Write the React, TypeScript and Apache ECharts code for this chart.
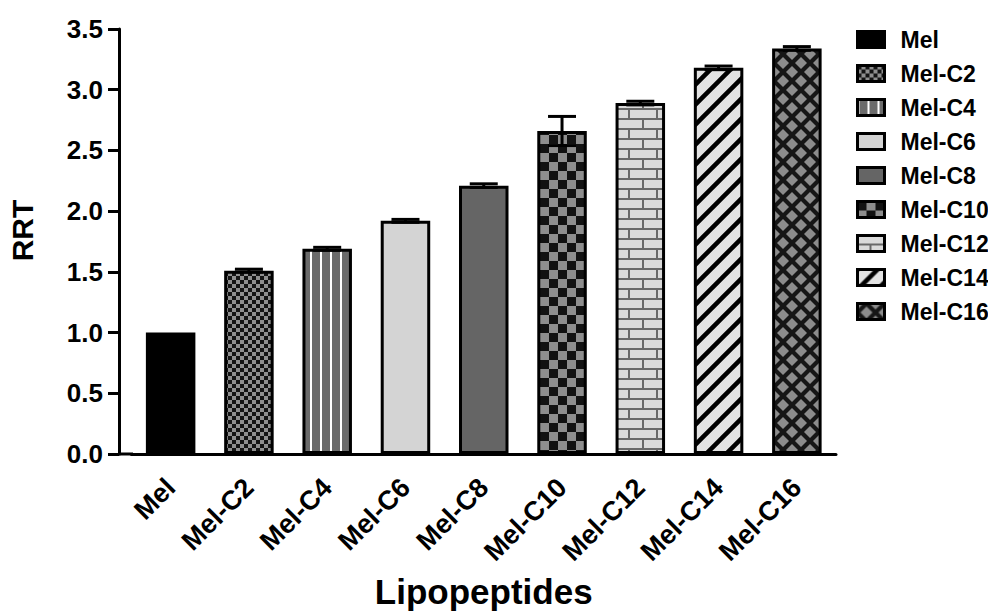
import React, { useEffect, useRef } from "react";
import * as echarts from "echarts";

const categories = ["Mel", "Mel-C2", "Mel-C4", "Mel-C6", "Mel-C8", "Mel-C10", "Mel-C12", "Mel-C14", "Mel-C16"];
const rrtValues = [1.0, 1.51, 1.69, 1.92, 2.21, 2.66, 2.89, 3.18, 3.34];
const rrtErrors = [0.0, 0.012, 0.012, 0.012, 0.015, 0.12, 0.015, 0.015, 0.015];
const yTicks = { min: 0, max: 3.5, interval: 0.5 };

const FONT = "'Liberation Sans', Arial, Helvetica, sans-serif";

function tile(w: number, h: number, draw: (ctx: CanvasRenderingContext2D) => void) {
  const c = document.createElement("canvas");
  c.width = w;
  c.height = h;
  const ctx = c.getContext("2d")!;
  draw(ctx);
  return { image: c, repeat: "repeat" } as any;
}

function checker(cell: number, a: string, b: string) {
  return tile(cell * 2, cell * 2, (ctx) => {
    ctx.fillStyle = a;
    ctx.fillRect(0, 0, cell * 2, cell * 2);
    ctx.fillStyle = b;
    ctx.fillRect(cell, 0, cell, cell);
    ctx.fillRect(0, cell, cell, cell);
  });
}

function makeFills() {
  const stripes = tile(10, 10, (ctx) => {
    ctx.fillStyle = "#6b6b6b";
    ctx.fillRect(0, 0, 10, 10);
    ctx.fillStyle = "#ffffff";
    ctx.fillRect(0, 0, 2, 10);
  });
  const bricks = tile(28, 20, (ctx) => {
    ctx.fillStyle = "#686868";
    ctx.fillRect(0, 0, 28, 20);
    ctx.fillStyle = "#dadada";
    ctx.fillRect(0, 0, 26, 8);
    ctx.fillRect(-14, 10, 26, 8);
    ctx.fillRect(14, 10, 26, 8);
  });
  const diag = tile(20, 20, (ctx) => {
    ctx.fillStyle = "#e3e3e3";
    ctx.fillRect(0, 0, 20, 20);
    ctx.strokeStyle = "#000";
    ctx.lineWidth = 4.5;
    ctx.beginPath();
    ctx.moveTo(-2, 22);
    ctx.lineTo(22, -2);
    ctx.moveTo(-12, 12);
    ctx.lineTo(12, -12);
    ctx.moveTo(8, 32);
    ctx.lineTo(32, 8);
    ctx.stroke();
  });
  const diamonds = tile(18, 18, (ctx) => {
    ctx.fillStyle = "#161616";
    ctx.fillRect(0, 0, 18, 18);
    ctx.fillStyle = "#8c8c8c";
    const d = (cx: number, cy: number, r: number) => {
      ctx.beginPath();
      ctx.moveTo(cx, cy - r);
      ctx.lineTo(cx + r, cy);
      ctx.lineTo(cx, cy + r);
      ctx.lineTo(cx - r, cy);
      ctx.closePath();
      ctx.fill();
    };
    d(9, 9, 6);
    d(0, 0, 6);
    d(18, 0, 6);
    d(0, 18, 6);
    d(18, 18, 6);
  });
  return [
    "#000000",
    checker(4, "#141414", "#8f8f8f"),
    stripes,
    "#d4d4d4",
    "#656565",
    checker(9, "#121212", "#8e8e8e"),
    bricks,
    diag,
    diamonds,
  ];
}

export default function App() {
  const ref = useRef<HTMLDivElement>(null);
  useEffect(() => {
    if (!ref.current) return;
    const chart = echarts.init(ref.current, null, { renderer: "svg" });
    const fills = makeFills();
    const barSeries = categories.map((name, i) => ({
      name,
      type: "bar",
      barWidth: 49.5,
      barGap: "-100%",
      data: categories.map((_, j) => (j === i ? rrtValues[i] : "-")),
      itemStyle: {
        color: fills[i],
        borderColor: "#000",
        borderWidth: i === 0 ? 2.5 : 3,
      },
      z: 2,
    }));
    const errSeries = {
      type: "custom",
      name: "err",
      z: 5,
      data: categories.map((_, i) => [i, rrtValues[i], rrtErrors[i]]),
      renderItem: (params: any, api: any) => {
        const idx = api.value(0);
        const v = api.value(1);
        const e = api.value(2);
        if (!e) return null;
        const top = api.coord([idx, v + e]);
        const bot = api.coord([idx, v - e]);
        const hw = 14;
        const style = { stroke: "#000", lineWidth: 3 };
        return {
          type: "group",
          children: [
            { type: "line", shape: { x1: top[0], y1: top[1], x2: bot[0], y2: bot[1] }, style },
            { type: "line", shape: { x1: top[0] - hw, y1: top[1], x2: top[0] + hw, y2: top[1] }, style },
            { type: "line", shape: { x1: bot[0] - hw, y1: bot[1], x2: bot[0] + hw, y2: bot[1] }, style },
          ],
        };
      },
    };
    chart.setOption({
      animation: false,
      backgroundColor: "#ffffff",
      grid: { left: 131.5, right: 152, top: 29, bottom: 161, containLabel: false, outerBoundsMode: "none" },
      legend: {
        data: categories,
        orient: "vertical",
        left: 856,
        top: 28,
        padding: 0,
        itemWidth: 27,
        itemHeight: 16,
        itemGap: 11,
        icon: "rect",
        itemStyle: { borderColor: "#000", borderWidth: 3 },
        textStyle: { fontSize: 23, fontWeight: "bold", color: "#000", fontFamily: FONT, padding: [0, 0, 0, 11] },
      },
      xAxis: {
        type: "category",
        data: categories,
        name: "Lipopeptides",
        nameLocation: "middle",
        nameGap: 120,
        nameTextStyle: { fontSize: 35, fontWeight: "bold", color: "#000", fontFamily: FONT },
        axisLine: { lineStyle: { color: "#000", width: 3 } },
        axisTick: { alignWithLabel: true, length: 12, lineStyle: { color: "#000", width: 3 } },
        axisLabel: {
          interval: 0,
          rotate: 45,
          margin: 29,
          fontSize: 27,
          fontWeight: "bold",
          color: "#000",
          fontFamily: FONT,
        },
      },
      yAxis: {
        type: "value",
        min: yTicks.min,
        max: yTicks.max,
        interval: yTicks.interval,
        offset: 12.5,
        name: "RRT",
        nameLocation: "middle",
        nameGap: 82,
        nameTextStyle: { fontSize: 30, fontWeight: "bold", color: "#000", fontFamily: FONT, padding: [0, 0, 0, 22] },
        axisLine: { show: true, lineStyle: { color: "#000", width: 3 } },
        axisTick: { show: true, length: 11, lineStyle: { color: "#000", width: 3 } },
        splitLine: { show: false },
        axisLabel: {
          margin: 16,
          fontSize: 26,
          fontWeight: "bold",
          color: "#000",
          fontFamily: FONT,
          formatter: (v: number) => v.toFixed(1),
        },
      },
      graphic: [
        {
          type: "line",
          shape: { x1: 118, y1: 454, x2: 133, y2: 454 },
          style: { stroke: "#000", lineWidth: 3 },
          z: 10,
        },
      ],
      series: [...barSeries, errSeries],
    });
    return () => chart.dispose();
  }, []);
  return <div ref={ref} style={{ position: "absolute", left: 0, top: 0, width: 988, height: 615 }} />;
}
